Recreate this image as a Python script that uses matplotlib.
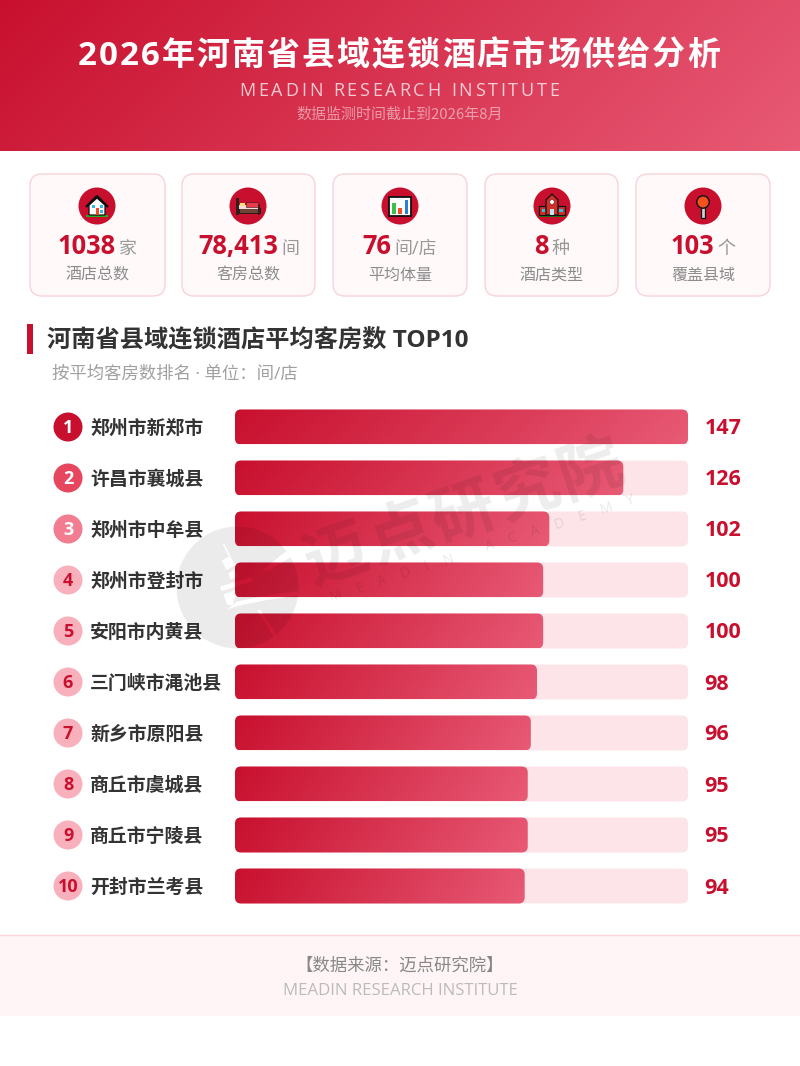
import math
import numpy as np
import matplotlib
matplotlib.use("Agg")
import matplotlib.pyplot as plt
from matplotlib.patches import FancyBboxPatch, Polygon, Rectangle, Circle, PathPatch
from matplotlib.path import Path
from matplotlib.text import Text
from matplotlib.transforms import IdentityTransform, Bbox, blended_transform_factory
from matplotlib.colors import to_rgb

CJK = ['Noto Sans CJK SC', 'DejaVu Sans']
LAT = ['Open Sans', 'Noto Sans CJK SC', 'DejaVu Sans']
plt.rcParams['font.family'] = CJK

# ---------- data ----------
title = "2026年河南省县域连锁酒店市场供给分析"
subtitle = "MEADIN RESEARCH INSTITUTE"
period = "数据监测时间截止到2026年8月"
kpi_values = ["1038", "78,413", "76", "8", "103"]
kpi_units = ["家", "间", "间/店", "种", "个"]
kpi_labels = ["酒店总数", "客房总数", "平均体量", "酒店类型", "覆盖县域"]
section_title = "河南省县域连锁酒店平均客房数 TOP10"
section_sub = "按平均客房数排名 · 单位：间/店"
counties = ["郑州市新郑市", "许昌市襄城县", "郑州市中牟县", "郑州市登封市", "安阳市内黄县",
            "三门峡市渑池县", "新乡市原阳县", "商丘市虞城县", "商丘市宁陵县", "开封市兰考县"]
rooms = [147, 126, 102, 100, 100, 98, 96, 95, 95, 94]
footer_source = "【数据来源：迈点研究院】"
footer_en = "MEADIN RESEARCH INSTITUTE"
wm_cn = "迈点研究院"
wm_en = "MEADIN ACADEMY"

RED = "#C8102E"
GRAD_END = "#E85A75"
W, H = 800, 1066


def px(v):
    return v * 0.72


class SpacedText(Text):
    """One text object drawn with CSS-like letter spacing to a target width (px)."""

    def __init__(self, *a, target_width=None, **k):
        super().__init__(*a, **k)
        self.target_width = target_width

    def _layout_chars(self, renderer):
        fp = self.get_fontproperties()
        s = self.get_text()
        adv = [renderer.get_text_width_height_descent(c, fp, False)[0] for c in s]
        gap = (self.target_width - sum(adv)) / max(len(s) - 1, 1)
        return s, adv, gap

    def draw(self, renderer):
        if not self.get_visible():
            return
        s, adv, gap = self._layout_chars(renderer)
        x0, y0 = self.get_transform().transform(self.get_position())
        r = math.radians(self.get_rotation())
        d = -self.target_width / 2
        for c, a in zip(s, adv):
            t = Text(x0 + d * math.cos(r), y0 + d * math.sin(r), c,
                     fontproperties=self.get_fontproperties(), color=self.get_color(),
                     alpha=self.get_alpha(), rotation=self.get_rotation(),
                     rotation_mode='anchor', ha='left', va='baseline',
                     transform=IdentityTransform(), zorder=self.get_zorder())
            t.set_figure(self.get_figure())
            t.draw(renderer)
            d += a + gap

    def get_window_extent(self, renderer=None, dpi=None):
        x0, y0 = self.get_transform().transform(self.get_position())
        r = math.radians(self.get_rotation())
        h = self.get_fontproperties().get_size_in_points() / 0.72
        dx, dy = self.target_width / 2 * math.cos(r), self.target_width / 2 * math.sin(r)
        return Bbox([[x0 - dx, y0 - dy], [x0 + dx, y0 + dy + h * 0.8]])


fig = plt.figure(figsize=(8, 10.66), dpi=100, facecolor='white')
bg = fig.add_axes([0, 0, 1, 1], zorder=0)
bg.set_xlim(0, W); bg.set_ylim(H, 0); bg.axis('off')


def grad_rgb(nx, ny, c0, c1, dx=1.0, dy=0.0):
    xx, yy = np.meshgrid(np.linspace(0, 1, nx), np.linspace(0, 1, ny))
    t = (dx * xx + dy * yy) / (dx + dy)
    a, b = np.array(to_rgb(c0)), np.array(to_rgb(c1))
    return a + (b - a) * t[..., None]


# header
bg.imshow(grad_rgb(400, 80, RED, GRAD_END, 800, 150), extent=[0, W, 151, 0], aspect='auto',
          interpolation='bilinear', zorder=1)
bg.set_xlim(0, W); bg.set_ylim(H, 0)


def place_spaced(ax, x, y, s, size, width, family, weight='normal', color='k', alpha=None, rot=0, z=5):
    t = SpacedText(x, y, s, target_width=width, fontsize=px(size), family=family, weight=weight,
                   color=color, alpha=alpha, rotation=rot, rotation_mode='anchor', ha='center', va='baseline',
                   transform=ax.transData, zorder=z)
    ax.add_artist(t)
    return t


place_spaced(bg, 399, 65, title, 33, 642, LAT, weight='bold', color='white')
place_spaced(bg, 399.5, 96, subtitle, 18, 320, LAT, color='white', alpha=0.75)
bg.text(400, 115, period, fontsize=px(15), color='white', alpha=0.5, ha='center', va='center', zorder=5)

# KPI cards
card_x = [(30, 165), (182, 315), (333, 467), (485, 618), (636, 770)]
for (x0, x1) in card_x:
    bg.add_patch(FancyBboxPatch((x0, 174), x1 - x0, 122, boxstyle="round,pad=0,rounding_size=12",
                                fc="#FFF9FA", ec="#F8D3DA", lw=1.0, zorder=2))


def poly(pts, fc, ec='none', lw=0.0, z=4):
    bg.add_patch(Polygon(pts, closed=True, fc=fc, ec=ec, lw=lw, zorder=z))


def box(x, y, w, h, fc, ec='none', lw=0.0, z=4):
    bg.add_patch(Rectangle((x, y), w, h, fc=fc, ec=ec, lw=lw, zorder=z))


def icon_house(c):
    x, y = c, 206
    box(x - 11, y + 9, 22, 1.8, "#22B022")
    poly([(x - 8, y - 1), (x, y - 8), (x + 8, y - 1), (x + 8, y + 9), (x - 8, y + 9)], "white", "#111", 0.9)
    bg.plot([x - 11, x, x + 11], [y + 1, y - 10, y + 1], color="#111", lw=1.7, zorder=5, solid_capstyle='butt')
    box(x - 5.5, y - 1, 3.4, 3.4, "#35B6F2"); box(x + 2.5, y - 1, 3.4, 3.4, "#35B6F2")
    box(x - 1.5, y + 2, 3.2, 7, "#EE4B2B"); box(x + 2.5, y + 4, 3.4, 3, "#35B6F2")


def icon_bed(c):
    x, y = c, 206
    box(x - 12, y - 8, 3, 17, "#2E201C")
    box(x - 9, y + 2, 21, 4.5, "#6B4437", "#2A1A15", 0.7)
    box(x + 10, y - 2, 2.4, 11, "#2E201C")
    box(x - 9, y - 1, 19, 3.5, "#F9DADA")
    box(x - 2, y - 4, 12, 5, "#EE3B4B", "#2A1A15", 0.4)
    box(x - 8.5, y - 3.5, 5, 3, "#F7E27A")


def icon_chart(c):
    x, y = c, 206
    box(x - 11, y - 9.5, 22, 19, "white", "#111", 1.3)
    box(x - 8, y - 3, 3.6, 11, "#3CC04A"); box(x - 1.8, y + 2, 3.6, 6, "#F0502A"); box(x + 4.6, y - 6.5, 3.6, 14.5, "#2A80D8")


def icon_school(c):
    x, y = c, 206
    box(x - 13, y + 9, 26, 1.8, "#1A7A1A")
    box(x - 13, y + 0, 26, 9, "#D0302A", "#111", 0.9)
    poly([(x - 6, y + 9), (x - 6, y - 6), (x, y - 12), (x + 6, y - 6), (x + 6, y + 9)], "#D0302A", "#111", 0.9)
    bg.add_patch(Circle((x, y - 4), 2.2, fc="white", ec="#444", lw=0.3, zorder=5))
    box(x - 10.5, y + 2.5, 3.6, 3.4, "#35C0E0", z=5); box(x + 6.9, y + 2.5, 3.6, 3.4, "#35C0E0", z=5)
    box(x - 2.2, y + 2.5, 4.4, 6.5, "#B8E8F0", z=5)


def icon_pin(c):
    x, y = c, 206
    box(x - 1.6, y + 0, 3.2, 11.5, "#D0D0D0", "#111", 0.9)
    bg.add_patch(Circle((x, y - 4), 6.2, fc="#F4511E", ec="#111", lw=1.0, zorder=5))


icon_cx = [97, 248, 400, 552, 703]
for cx, draw_icon in zip(icon_cx, [icon_house, icon_bed, icon_chart, icon_school, icon_pin]):
    bg.add_patch(Circle((cx, 206), 18.5, fc=RED, ec='none', zorder=3))
    draw_icon(cx)

renderer = fig.canvas.get_renderer()
for (x0, x1), val, unit, lab in zip(card_x, kpi_values, kpi_units, kpi_labels):
    cx = (x0 + x1) / 2
    tv = bg.text(0, 254, val, fontsize=px(25.5), family=LAT, weight='bold', color=RED, ha='left', va='baseline', zorder=5)
    tu = bg.text(0, 254, unit, fontsize=px(18), family=LAT, color="#999999", ha='left', va='baseline', zorder=5)
    wv = tv.get_window_extent(renderer).width
    wu = tu.get_window_extent(renderer).width
    gap = 3
    left = cx - (wv + gap + wu) / 2
    tv.set_x(left)
    tu.set_x(left + wv + gap)
    bg.text(cx, 275, lab, fontsize=px(16), color="#8C8C8C", ha='center', va='center', zorder=5)

# section header
box(27, 324, 6, 30, RED, z=3)
bg.text(47, 341, section_title, fontsize=px(24.2), family=LAT, weight='bold', color="#333333", ha='left', va='center', zorder=5)
bg.text(52, 375, section_sub, fontsize=px(17.4), family=LAT, color="#A0A0A0", ha='left', va='center', zorder=5)

# bar axes
bar_left, bar_right = 235, 688
row_h = 51
top = 401.5
ax = fig.add_axes([bar_left / W, 1 - (top + row_h * len(rooms)) / H, (bar_right - bar_left) / W, row_h * len(rooms) / H],
                  zorder=1)
ax.patch.set_alpha(0)
xmax = max(rooms)
ax.set_xlim(0, xmax)
ax.set_ylim(len(rooms) - 0.5, -0.5)
ax.axis('off')
h_bar = 35 / row_h
x_per_px = xmax / (bar_right - bar_left)
y_per_px = 1 / row_h
rad = 6 * x_per_px
aspect = y_per_px / x_per_px
for i, v in enumerate(rooms):
    ax.add_patch(FancyBboxPatch((0, i - h_bar / 2), xmax, h_bar, boxstyle=f"round,pad=0,rounding_size={rad}",
                                mutation_aspect=aspect, fc="#FCE4E8", ec='none', zorder=1))
    clip = FancyBboxPatch((0, i - h_bar / 2), v, h_bar, boxstyle=f"round,pad=0,rounding_size={rad}",
                          mutation_aspect=aspect, fc='none', ec='none', zorder=2)
    ax.add_patch(clip)
    im = ax.imshow(grad_rgb(200, 20, RED, GRAD_END, 4, 0.3), extent=[0, v, i + h_bar / 2, i - h_bar / 2],
                   aspect='auto', interpolation='bilinear', zorder=2)
    im.set_clip_path(clip)
ax.set_xlim(0, xmax)
ax.set_ylim(len(rooms) - 0.5, -0.5)

# rows: rank, label, value
trans = blended_transform_factory(bg.transData, ax.transData)
rank_colors = [RED, "#E6475F", "#F27D90"] + ["#F8B0BC"] * 7
ranks = np.arange(len(rooms))
nudge = 1 / row_h
bg.scatter([68] * len(rooms), ranks, s=px(29) ** 2, c=rank_colors, linewidths=0, transform=trans, zorder=3, clip_on=False)
for i, (name, v) in enumerate(zip(counties, rooms)):
    bg.text(68, i + nudge, str(i + 1), transform=trans, fontsize=px(18), family=LAT, weight='bold',
            color='white' if i < 3 else RED, ha='center', va='center', zorder=5)
    bg.text(90, i + nudge, name, transform=trans, fontsize=px(18.9), weight='bold', color="#333333",
            ha='left', va='center', zorder=5)
    bg.text(704.5, i + 2 * nudge, str(v), transform=trans, fontsize=px(21.5), family=LAT, weight='bold', color=RED,
            ha='left', va='center', zorder=5)

# footer
box(0, 935, W, 81, "#FFF5F7", z=1)
bg.plot([0, W], [935, 935], color="#FFD2DC", lw=1.0, zorder=2)
bg.text(400, 966, footer_source, fontsize=px(17.4), color="#888888", ha='center', va='center', zorder=5)
bg.text(400, 991, footer_en, fontsize=px(16.8), family=LAT, color="#BBBBBB", ha='center', va='center', zorder=5)

# watermark overlay
top_ax = fig.add_axes([0, 0, 1, 1], zorder=5)
top_ax.set_xlim(0, W); top_ax.set_ylim(H, 0); top_ax.axis('off'); top_ax.patch.set_alpha(0)


def ccw(pts):
    p = np.asarray(pts, float)
    a = np.sum(p[:, 0] * np.roll(p[:, 1], -1) - np.roll(p[:, 0], -1) * p[:, 1])
    return p if a > 0 else p[::-1]


def zoom_pts(pts):
    return [(170 + a / 3, 520 + b / 3) for a, b in pts]


th = np.linspace(0, 2 * np.pi, 120, endpoint=False)
outer = ccw(np.c_[237.5 + 61 * np.cos(th), 587.5 + 61 * np.sin(th)])[::-1]
holes = [
    [(158, 72), (162, 70), (182, 110), (178, 112)],
    [(155, 122), (180, 108), (195, 135), (170, 150)],
    [(175, 160), (192, 150), (205, 168), (182, 178)],
    [(150, 200), (245, 170), (250, 183), (155, 213)],
    [(160, 222), (200, 210), (188, 255), (172, 255)],
    [(272, 155), (350, 92), (362, 112), (300, 150)],
    [(172, 268), (200, 245), (290, 226), (384, 214), (384, 226), (290, 240), (215, 255)],
    [(262, 272), (270, 268), (320, 345), (312, 350)],
]
verts, codes = [], []
for loop in [outer] + [ccw(zoom_pts(h)) for h in holes]:
    loop = np.asarray(loop)
    verts += list(loop) + [loop[0]]
    codes += [Path.MOVETO] + [Path.LINETO] * (len(loop) - 1) + [Path.CLOSEPOLY]
top_ax.add_patch(PathPatch(Path(verts, codes), fc="black", ec='none', alpha=0.08, zorder=1))
place_spaced(top_ax, 470, 531, wm_cn, 64, 332, CJK, weight='bold', color='black', alpha=0.075, rot=19, z=2)
place_spaced(top_ax, 483, 552, wm_en, 14, 320, LAT, color='black', alpha=0.09, rot=18, z=2)

fig.savefig("out.png", dpi=100, facecolor='white')
